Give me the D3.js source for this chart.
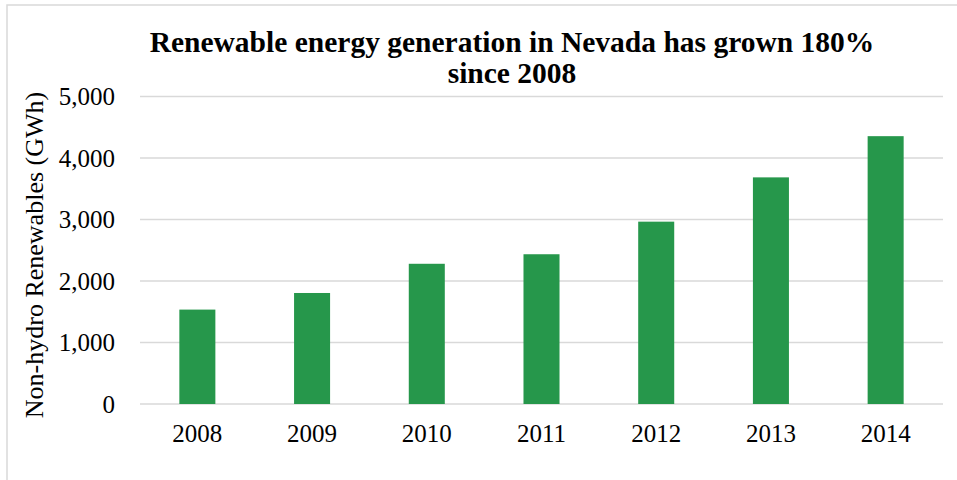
<!DOCTYPE html>
<html>
<head>
<meta charset="utf-8">
<script src="https://cdn.jsdelivr.net/npm/d3@7"></script>
<style>
  body { margin: 0; background: #fff; }
  text { font-family: "Liberation Serif", "Times New Roman", serif; }
</style>
</head>
<body>
<script>
let years = ["2008", "2009", "2010", "2011", "2012", "2013", "2014"]
let generation = [1535, 1805, 2280, 2435, 2965, 3685, 4355]
let yTicks = [0, 1000, 2000, 3000, 4000, 5000]
let titleLines = ["Renewable energy generation in Nevada has grown 180%", "since 2008"]
let yTitle = "Non-hydro Renewables (GWh)"

let width = 957, height = 480
let svg = d3.select("body").append("svg")
    .attr("width", width)
    .attr("height", height)

// chart area border, only top and left show in the picture
svg.append("rect")
    .attr("x", 7).attr("y", 5)
    .attr("width", 970).attr("height", 490)
    .attr("fill", "none")
    .attr("stroke", "#d9d9d9")
    .attr("stroke-width", 1.5)

let x = d3.scaleBand()
    .domain(years)
    .range([140, 943])
    .paddingInner(0.686)
    .paddingOuter(0.343)

let y = d3.scaleLinear()
    .domain([0, 5000])
    .range([404, 96.5])

// gridlines
svg.append("g")
    .selectAll("line")
    .data(yTicks)
    .enter()
    .append("line")
    .attr("x1", 140).attr("x2", 943)
    .attr("y1", d => y(d)).attr("y2", d => y(d))
    .attr("stroke", "#d9d9d9")
    .attr("stroke-width", 1.5)

// y axis labels
let yAxis = svg.append("g")
    .attr("transform", "translate(140,0)")
    .call(d3.axisLeft(y).tickValues(yTicks).tickFormat(d3.format(",")).tickSize(0).tickPadding(25))
yAxis.select(".domain").remove()
yAxis.selectAll("text")
    .attr("font-size", 25)
    .attr("fill", "#000")
    .style("font-family", "Liberation Serif")

// x axis labels
let xAxis = svg.append("g")
    .attr("transform", "translate(0,404)")
    .call(d3.axisBottom(x).tickSize(0).tickPadding(20))
xAxis.select(".domain").remove()
xAxis.selectAll("text")
    .attr("font-size", 25)
    .attr("fill", "#000")
    .style("font-family", "Liberation Serif")

// bars
svg.append("g")
    .selectAll("rect")
    .data(generation)
    .enter()
    .append("rect")
    .attr("x", (d, i) => x(years[i]))
    .attr("y", d => y(d))
    .attr("width", x.bandwidth())
    .attr("height", d => y(0) - y(d))
    .attr("fill", "#26974b")

// title
svg.append("g")
    .selectAll("text")
    .data(titleLines)
    .enter()
    .append("text")
    .attr("x", 512)
    .attr("y", (d, i) => 52 + i * 31)
    .attr("text-anchor", "middle")
    .attr("font-size", 29.5)
    .attr("font-weight", "bold")
    .text(d => d)

// y axis title
svg.append("text")
    .attr("transform", "translate(43,255) rotate(-90)")
    .attr("text-anchor", "middle")
    .attr("font-size", 26)
    .text(yTitle)
</script>
</body>
</html>
